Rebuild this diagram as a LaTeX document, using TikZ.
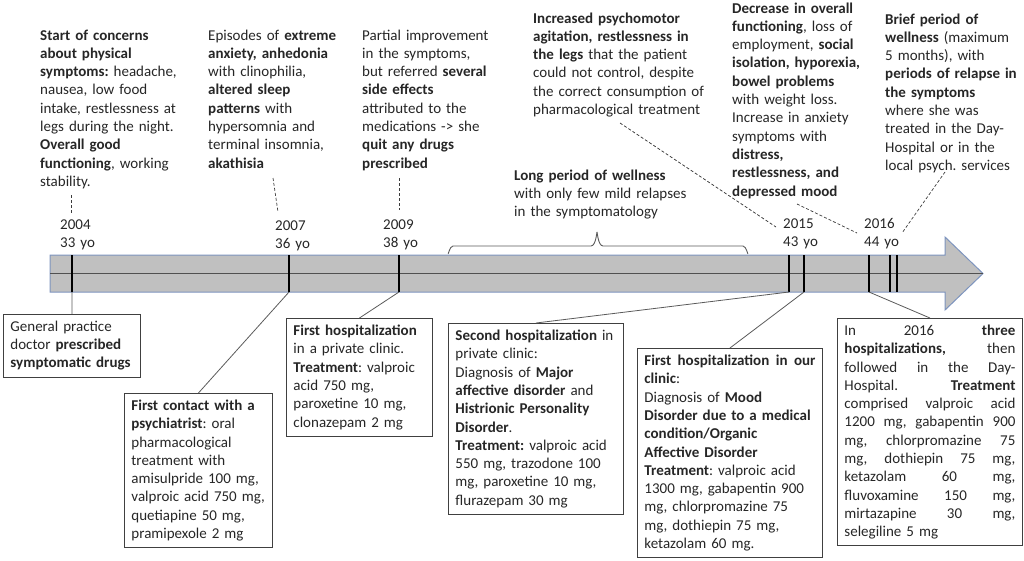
\documentclass[tikz,border=0pt]{standalone}
\usepackage{fontspec}
\setmainfont{Carlito}
\definecolor{txt}{RGB}{38,38,38}
\definecolor{boxc}{RGB}{64,64,64}
\definecolor{connc}{RGB}{90,90,90}
\definecolor{dashc}{RGB}{60,60,60}
\definecolor{arrfill}{RGB}{192,192,192}
\definecolor{arrline}{RGB}{125,148,190}
\definecolor{midc}{RGB}{80,80,80}
\hyphenpenalty=10000
\exhyphenpenalty=10000
\frenchspacing
\begin{document}
\frenchspacing
\begin{tikzpicture}[x=1pt,y=-1pt,
  every node/.style={font=\fontsize{15}{18.3}\selectfont, text=txt, inner sep=0pt},
  toptext/.style={anchor=base west, text width=200pt, align=left},
  yearlbl/.style={anchor=base west, text width=50pt, align=left},
  boxnode/.style={draw=boxc, line width=0.9pt, anchor=north west, inner xsep=7pt, inner ysep=6.5pt, align=left},
  dsh/.style={draw=dashc, densely dashed, line width=0.7pt},
  conn/.style={draw=connc, line width=0.8pt},
  tickline/.style={line width=2.2pt, draw=black}]
\useasboundingbox (0,0) rectangle (1024,560);

% timeline arrow
\path[fill=arrfill, draw=arrline, line width=1pt] (50,255) -- (945,255) -- (945,237) -- (983,273.5) -- (945,310) -- (945,292) -- (50,292) -- cycle;
\draw[line width=1.2pt, draw=midc] (50,273.5) -- (983,273.5);

% ticks
\foreach \n/\x in {1/72,2/289,3/399,4/789,5/804,6/869,7/890,8/897}{
  \coordinate (t\n t) at (\x,255);
  \coordinate (t\n b) at (\x,292);
  \draw[tickline] (t\n t) -- (t\n b);
}

% year labels
\node[yearlbl] (y2004) at (60,229) {2004\\33 yo};
\node[yearlbl] (y2007) at (275,230) {2007\\36 yo};
\node[yearlbl] (y2009) at (383,229) {2009\\38 yo};
\node[yearlbl] (y2015) at (783,228) {2015\\43 yo};
\node[yearlbl] (y2016) at (864,228) {2016\\44 yo};

% top texts
\node[toptext] (txa) at (40,40) {\textbf{Start of concerns}\\
\textbf{about physical}\\
\textbf{symptoms:} headache,\\
nausea, low food\\
intake, restlessness at\\
legs during the night.\\
\textbf{Overall good}\\
\textbf{functioning}, working\\
stability.};

\node[toptext] (txb) at (208,40) {Episodes of \textbf{extreme}\\
\textbf{anxiety, anhedonia}\\
with clinophilia,\\
\textbf{altered sleep}\\
\textbf{patterns} with\\
hypersomnia and\\
terminal insomnia,\\
\textbf{akathisia}};

\node[toptext] (txc) at (362,40) {Partial improvement\\
in the symptoms,\\
but referred \textbf{several}\\
\textbf{side effects}\\
attributed to the\\
medications -> she\\
\textbf{quit any drugs}\\
\textbf{prescribed}};

\node[toptext] (txd) at (533,23) {\textbf{Increased psychomotor}\\
\textbf{agitation, restlessness in}\\
\textbf{the legs} that the patient\\
could not control, despite\\
the correct consumption of\\
pharmacological treatment};

\node[toptext] (txe) at (732,13) {\textbf{Decrease in overall}\\
\textbf{functioning}, loss of\\
employment, \textbf{social}\\
\textbf{isolation, hyporexia,}\\
\textbf{bowel problems}\\
with weight loss.\\
Increase in anxiety\\
symptoms with\\
\textbf{distress,}\\
\textbf{restlessness, and}\\
\textbf{depressed mood}};

\node[toptext, text width=138pt] (txf) at (885,24) {\textbf{Brief period of}\\
\textbf{wellness} (maximum\\
5 months), with\\
\textbf{periods of relapse in}\\
\textbf{the symptoms}\\
where she was\\
treated in the Day-\\
Hospital or in the\\
local psych. services};

\node[toptext] (txg) at (514,180) {\textbf{Long period of wellness}\\
with only few mild relapses\\
in the symptomatology};

% brace
\coordinate (brl) at (448,253);
\coordinate (brm) at (597,233);
\coordinate (brr) at (748,253);
\draw[conn, line width=0.9pt] (brl) to[out=-90,in=180,looseness=1] (453,246) -- (591,246)
  to[out=0,in=90] (brm) to[out=90,in=180] (603,246) -- (743,246) to[out=0,in=-90] (brr);

% dashed connectors (top)
\coordinate (da1) at (71,195); \coordinate (da2) at (71,213);
\coordinate (db1) at (273,178); \coordinate (db2) at (278,212);
\coordinate (dc1) at (399,178); \coordinate (dc2) at (399,210);
\coordinate (dd1) at (620,123); \coordinate (dd2) at (776,227);
\coordinate (de1) at (797,204); \coordinate (de2) at (857,233);
\coordinate (df1) at (945,172); \coordinate (df2) at (902,233);
\draw[dsh] (da1) -- (da2);
\draw[dsh] (db1) -- (db2);
\draw[dsh] (dc1) -- (dc2);
\draw[dsh] (dd1) -- (dd2);
\draw[dsh] (de1) -- (de2);
\draw[dsh] (df1) -- (df2);

% bottom boxes
\node[boxnode, text width=123pt] (bxa) at (3,314) {General practice\\
doctor \textbf{prescribed}\\
\textbf{symptomatic drugs}};

\node[boxnode, text width=134pt] (bxb) at (124,393) {\textbf{First contact with a}\\
\textbf{psychiatrist}: oral\\
pharmacological\\
treatment with\\
amisulpride 100 mg,\\
valproic acid 750 mg,\\
quetiapine 50 mg,\\
pramipexole 2 mg};

\node[boxnode, text width=132pt] (bxc) at (286,318) {\textbf{First hospitalization}\\
in a private clinic.\\
\textbf{Treatment}: valproic\\
acid 750 mg,\\
paroxetine 10 mg,\\
clonazepam 2 mg};

\node[boxnode, text width=161pt] (bxd) at (448,323) {\textbf{Second hospitalization} in\\
private clinic:\\
Diagnosis of \textbf{Major}\\
\textbf{affective disorder} and\\
\textbf{Histrionic Personality}\\
\textbf{Disorder}.\\
\textbf{Treatment:} valproic acid\\
550 mg, trazodone 100\\
mg, paroxetine 10 mg,\\
flurazepam 30 mg};

\node[boxnode, text width=171pt] (bxe) at (637,348) {\textbf{First}\hfill\textbf{hospitalization}\hfill\textbf{in}\hfill\textbf{our}\\
\textbf{clinic}:\\
Diagnosis of \textbf{Mood}\\
\textbf{Disorder due to a medical}\\
\textbf{condition/Organic}\\
\textbf{Affective Disorder}\\
\textbf{Treatment}: valproic acid\\
1300 mg, gabapentin 900\\
mg, chlorpromazine 75\\
mg, dothiepin 75 mg,\\
ketazolam 60 mg.};

\node[boxnode, text width=171pt] (bxf) at (837,318) {In\hfill 2016\hfill\textbf{three}\\
\textbf{hospitalizations,}\hfill then\\
followed\hfill in\hfill the\hfill Day-\\
Hospital.\hfill\textbf{Treatment}\\
comprised\hfill valproic\hfill acid\\
1200\hfill mg,\hfill gabapentin\hfill 900\\
mg,\hfill chlorpromazine\hfill 75\\
mg,\hfill dothiepin\hfill 75\hfill mg,\\
ketazolam\hfill 60\hfill mg,\\
fluvoxamine\hfill 150\hfill mg,\\
mirtazapine\hfill 30\hfill mg,\\
selegiline 5 mg};

% bottom connectors
\draw[conn] (t1b) -- (bxa.north);
\draw[conn] (t2b) -- (bxb.north);
\draw[conn] (t3b) -- (bxc.north);
\draw[conn] (t4b) -- (bxd.north);
\draw[conn] (t5b) -- (bxe.north);
\draw[conn] (t6b) -- (bxf.north);
\end{tikzpicture}
\end{document}
